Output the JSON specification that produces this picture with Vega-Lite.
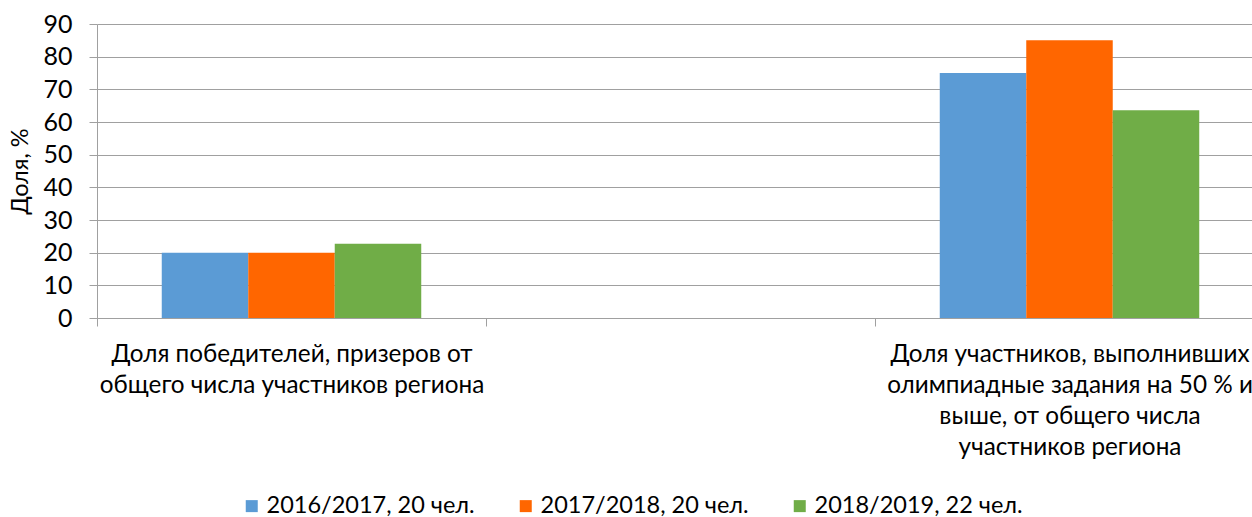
{
  "$schema": "https://vega.github.io/schema/vega-lite/v6.json",
  "width": 1167,
  "height": 294,
  "autosize": "none",
  "padding": {"left": 97, "top": 24, "right": 0, "bottom": 199},
  "background": "white",
  "config": {"font": "Lato", "view": {"stroke": null}},
  "data": {
    "values": [
      {"category": "Доля победителей, призеров от|общего числа участников региона", "year": "2016/2017, 20 чел.", "value": 20},
      {"category": "Доля победителей, призеров от|общего числа участников региона", "year": "2017/2018, 20 чел.", "value": 20},
      {"category": "Доля победителей, призеров от|общего числа участников региона", "year": "2018/2019, 22 чел.", "value": 22.7},
      {"category": "Доля участников, выполнивших|олимпиадные задания на 50 % и|выше, от общего числа|участников региона", "year": "2016/2017, 20 чел.", "value": 75},
      {"category": "Доля участников, выполнивших|олимпиадные задания на 50 % и|выше, от общего числа|участников региона", "year": "2017/2018, 20 чел.", "value": 85},
      {"category": "Доля участников, выполнивших|олимпиадные задания на 50 % и|выше, от общего числа|участников региона", "year": "2018/2019, 22 чел.", "value": 63.6}
    ]
  },
  "mark": {"type": "bar"},
  "encoding": {
    "x": {
      "field": "category",
      "type": "nominal",
      "sort": null,
      "scale": {
        "domain": [
          "Доля победителей, призеров от|общего числа участников региона",
          " ",
          "Доля участников, выполнивших|олимпиадные задания на 50 % и|выше, от общего числа|участников региона"
        ],
        "paddingInner": 0,
        "paddingOuter": 0
      },
      "axis": {
        "title": null,
        "labelAngle": 0,
        "tickBand": "extent",
        "labelExpr": "split(datum.label, '|')",
        "labelFontSize": 24.3,
        "labelLineHeight": 31,
        "labelPadding": 16,
        "labelColor": "#000000",
        "labelLimit": 0,
        "domainColor": "#a0a0a0",
        "tickColor": "#a0a0a0",
        "tickSize": 8,
        "grid": false
      }
    },
    "xOffset": {
      "field": "year",
      "type": "nominal",
      "scale": {"domain": ["2016/2017, 20 чел.", "2017/2018, 20 чел.", "2018/2019, 22 чел."], "paddingInner": 0, "paddingOuter": 0.7486}
    },
    "y": {
      "field": "value",
      "type": "quantitative",
      "scale": {"domain": [0, 90]},
      "axis": {
        "values": [0, 10, 20, 30, 40, 50, 60, 70, 80, 90],
        "title": "Доля, %",
        "titleFontSize": 23.5,
        "titleFontWeight": "normal",
        "titleColor": "#000000",
        "titlePadding": 10,
        "labelFontSize": 25,
        "labelColor": "#000000",
        "labelPadding": 17,
        "tickSize": 8,
        "tickColor": "#a0a0a0",
        "domainColor": "#a0a0a0",
        "gridColor": "#a0a0a0",
        "gridOpacity": 1
      }
    },
    "color": {
      "field": "year",
      "type": "nominal",
      "scale": {
        "domain": ["2016/2017, 20 чел.", "2017/2018, 20 чел.", "2018/2019, 22 чел."],
        "range": ["#5B9BD5", "#FF6600", "#70AD47"]
      },
      "legend": {
        "title": null,
        "orient": "none",
        "direction": "horizontal",
        "legendX": 143,
        "legendY": 470,
        "columns": 3,
        "gridAlign": "all",
        "columnPadding": 39,
        "symbolType": "square",
        "symbolSize": 144,
        "symbolStrokeWidth": 0,
        "symbolOpacity": 1,
        "labelFontSize": 23.5,
        "labelColor": "#000000",
        "labelOffset": 3,
        "labelLimit": 0
      }
    }
  }
}
